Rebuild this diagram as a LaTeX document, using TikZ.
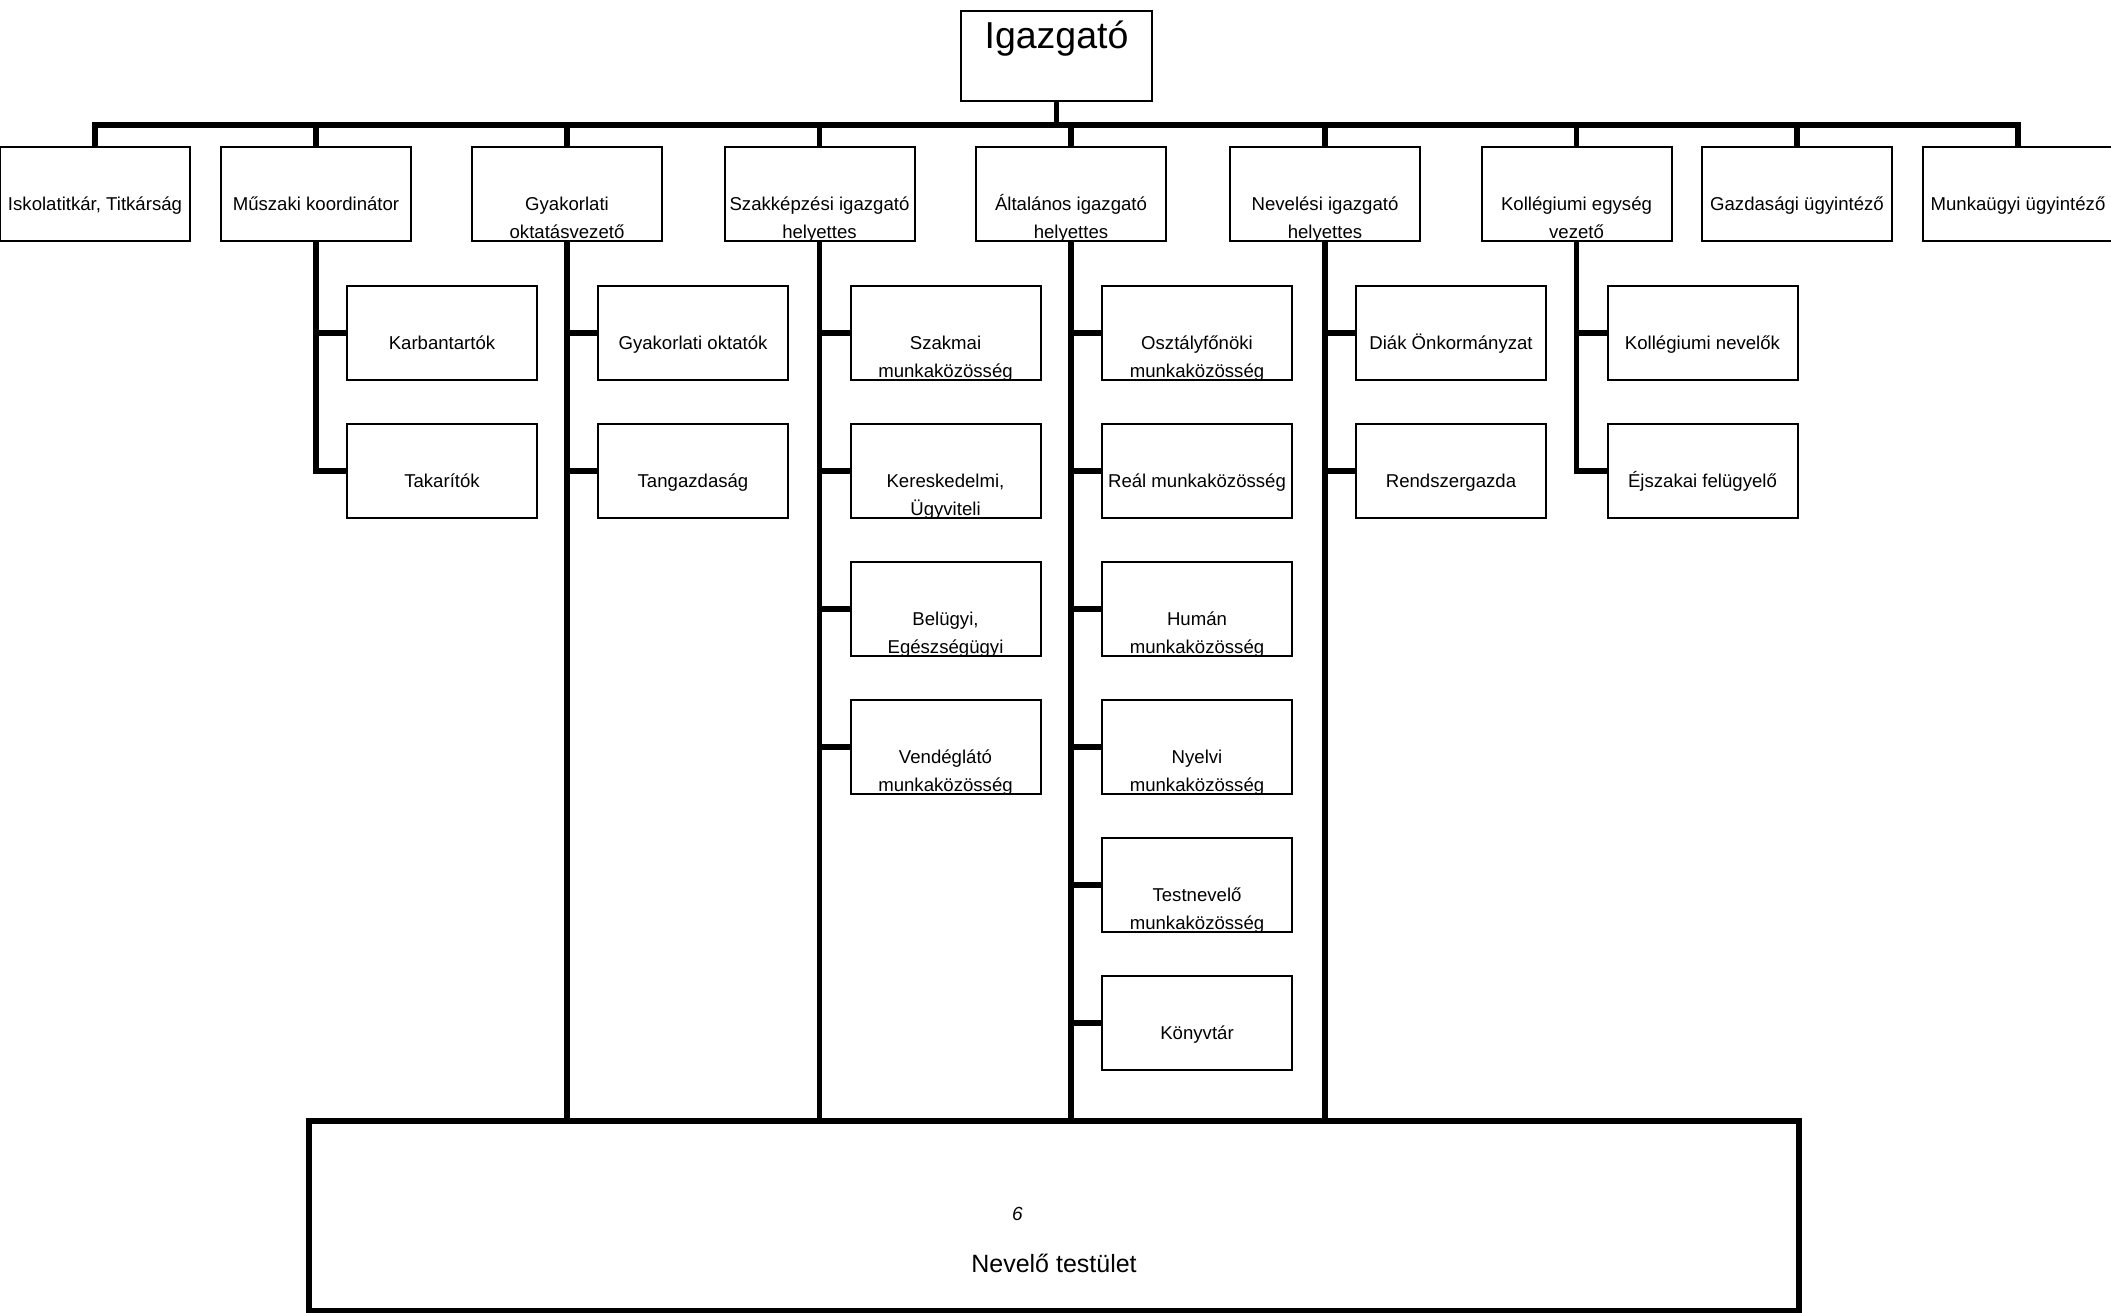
\documentclass[tikz,border=0pt]{standalone}
\usepackage{fontspec}
\setmainfont{Liberation Sans}
\newcommand\twoline[2]{\begin{tabular}[t]{@{}c@{}}#1\\#2\end{tabular}}
\begin{document}
\begin{tikzpicture}[x=1pt,y=-1pt,
  box/.style={draw, line width=2pt, minimum width=190pt, minimum height=94pt, inner sep=0pt,
    text height=33pt, text depth=0pt, font=\fontsize{18.6}{27.5}\selectfont},
  conn/.style={line width=5.5pt},
]
\useasboundingbox[fill=white] (0,0) rectangle (2111,1312);

% top
\node[draw, line width=2pt, minimum width=191pt, minimum height=90pt, inner sep=0pt,
  text height=0pt, text depth=16pt, font=\fontsize{37.5}{40}\selectfont] (igaz) at (1056.5,56) {Igazgató};

% first level
\node[box] (isk)   at (95,194)    {Iskolatitkár, Titkárság};
\node[box] (musz)  at (316,194)   {Műszaki koordinátor};
\node[box] (gyak)  at (567,194)   {\twoline{Gyakorlati}{oktatásvezető}};
\node[box] (szak)  at (819.5,194) {\twoline{Szakképzési igazgató}{helyettes}};
\node[box] (alt)   at (1071,194)  {\twoline{Általános igazgató}{helyettes}};
\node[box] (nev)   at (1325,194)  {\twoline{Nevelési igazgató}{helyettes}};
\node[box] (koll)  at (1576.5,194){\twoline{Kollégiumi egység}{vezető}};
\node[box] (gazd)  at (1797,194)  {Gazdasági ügyintéző};
\node[box] (munka) at (2018,194)  {Munkaügyi ügyintéző};

% second level
\node[box] (karb)  at (442,333) {Karbantartók};
\node[box] (tak)   at (442,471) {Takarítók};

\node[box] (gyo)   at (693,333) {Gyakorlati oktatók};
\node[box] (tang)  at (693,471) {Tangazdaság};

\node[box] (szm)   at (945.5,333) {\twoline{Szakmai}{munkaközösség}};
\node[box] (ker)   at (945.5,471) {\twoline{Kereskedelmi,}{Ügyviteli}};
\node[box] (bel)   at (945.5,609) {\twoline{Belügyi,}{Egészségügyi}};
\node[box] (vend)  at (945.5,747) {\twoline{Vendéglátó}{munkaközösség}};

\node[box] (osz)   at (1197,333)  {\twoline{Osztályfőnöki}{munkaközösség}};
\node[box] (real)  at (1197,471)  {Reál munkaközösség};
\node[box] (hum)   at (1197,609)  {\twoline{Humán}{munkaközösség}};
\node[box] (nyelv) at (1197,747)  {\twoline{Nyelvi}{munkaközösség}};
\node[box] (test)  at (1197,885)  {\twoline{Testnevelő}{munkaközösség}};
\node[box] (konyv) at (1197,1023) {Könyvtár};

\node[box] (diak)  at (1451,333) {Diák Önkormányzat};
\node[box] (rsz)   at (1451,471) {Rendszergazda};

\node[box] (kolln) at (1702.5,333) {Kollégiumi nevelők};
\node[box] (ejsz)  at (1702.5,471) {Éjszakai felügyelő};

% bottom
\node[draw, line width=5.5pt, minimum width=1490pt, minimum height=190pt, inner sep=0pt,
  text height=112pt, text depth=0pt, font=\fontsize{25}{30}\selectfont] (tes) at (1054,1216) {Nevelő testület};
\node[anchor=base, inner sep=0pt, font=\fontsize{19}{22}\selectfont\itshape] (six) at (1017.5,1220) {6};

% connectors: bus
\coordinate (busy) at (0,125);
\draw[conn] (isk.north) -- (isk.north |- busy) -- (munka.north |- busy) -- (munka.north);
\foreach \n in {musz,gyak,szak,alt,nev,koll,gazd}
  \draw[conn] (\n.north) -- (\n.north |- busy);
\draw[conn] (igaz.south) -- (igaz.south |- busy);

% spines
\draw[conn] (musz.south) |- (tak.west);
\draw[conn] (musz.south |- karb.west) -- (karb.west);

\draw[conn] (koll.south) |- (ejsz.west);
\draw[conn] (koll.south |- kolln.west) -- (kolln.west);

\draw[conn] (gyak.south) -- (gyak.south |- tes.north);
\foreach \b in {gyo,tang}
  \draw[conn] (gyak.south |- \b.west) -- (\b.west);

\draw[conn] (szak.south) -- (szak.south |- tes.north);
\foreach \b in {szm,ker,bel,vend}
  \draw[conn] (szak.south |- \b.west) -- (\b.west);

\draw[conn] (alt.south) -- (alt.south |- tes.north);
\foreach \b in {osz,real,hum,nyelv,test,konyv}
  \draw[conn] (alt.south |- \b.west) -- (\b.west);

\draw[conn] (nev.south) -- (nev.south |- tes.north);
\foreach \b in {diak,rsz}
  \draw[conn] (nev.south |- \b.west) -- (\b.west);
\end{tikzpicture}
\end{document}
